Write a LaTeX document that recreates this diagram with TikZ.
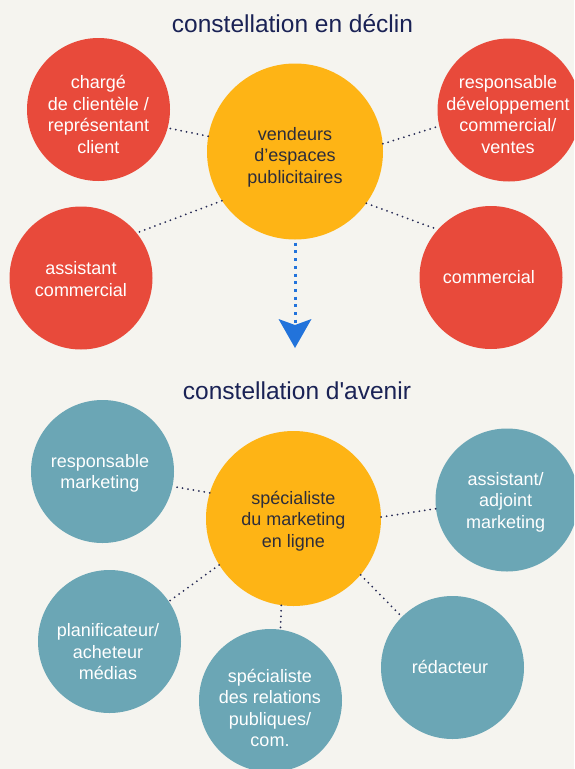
\documentclass[tikz,border=0pt]{standalone}
\usepackage{fontspec}
\newfontfamily\lsans{Liberation Sans}
\usetikzlibrary{arrows.meta}
\definecolor{bg}{HTML}{F5F4EF}
\definecolor{cred}{HTML}{E84A3B}
\definecolor{cyel}{HTML}{FEB415}
\definecolor{cteal}{HTML}{6BA6B5}
\definecolor{navy}{HTML}{1A2255}
\definecolor{dotnavy}{HTML}{262A55}
\definecolor{dtext}{HTML}{2D2D3A}
\definecolor{ablue}{HTML}{2273DB}
\begin{document}
\begin{tikzpicture}[x=1pt,y=-1pt,
  redc/.style={circle, fill=cred, minimum size=143pt, inner sep=0pt},
  tealc/.style={circle, fill=cteal, minimum size=143pt, inner sep=0pt},
  yelc/.style={circle, fill=cyel, inner sep=0pt},
  ltxt/.style={text=white, font=\lsans\fontsize{18}{21.5}\selectfont, align=center, inner sep=0pt},
  dtxt/.style={text=dtext, font=\lsans\fontsize{18}{21.5}\selectfont, align=center, inner sep=0pt},
  ttl/.style={text=navy, font=\lsans\fontsize{24.5}{28}\selectfont, inner sep=0pt, anchor=base},
  link/.style={draw=dotnavy, line width=2pt, dash pattern=on 0pt off 5.5pt, line cap=round},
  bluedots/.style={draw=ablue, line width=3pt, dash pattern=on 3pt off 4.7pt}
]
\useasboundingbox (0,0) rectangle (574,769);
\fill[bg] (0,0) rectangle (574,769);
\clip (0,0) rectangle (574,769);

% titles
\node[ttl] (h1) at (292.5,32) {constellation en déclin};
\node[ttl] (h2) at (297,399) {constellation d'avenir};

% top constellation
\node[yelc, minimum size=176pt] (y1) at (295,151.5) {};
\node[redc] (r1) at (98.5,109.5) {};
\node[redc] (r2) at (509,110) {};
\node[redc] (r3) at (81,278) {};
\node[redc] (r4) at (491,277.5) {};

\node[dtxt] (ty1) at (295,157) {vendeurs\\d’espaces\\publicitaires};
\node[ltxt] (tr1) at (98.5,114.5) {chargé\\de clientèle /\\représentant\\client};
\node[ltxt] (tr2) at (508,114.5) {responsable\\développement\\commercial/\\ventes};
\node[ltxt] (tr3) at (81,279) {assistant\\commercial};
\node[ltxt] (tr4) at (489,277.5) {commercial};

\draw[link] (y1.170) -- (r1.345);
\draw[link] (y1.214) -- (r3.39.4);
\draw[link] (y1.5.8) -- (r2.193.7);
\draw[link] (y1.324) -- (r4.138.7);

% arrow
\coordinate (atip) at (295,348);
\draw[bluedots, shorten <=3pt, -{Stealth[length=29pt, width=33pt, inset=6pt, line width=0pt]}] (y1.south) -- (atip);

% bottom constellation
\node[yelc, minimum size=175pt] (y2) at (293.5,518.5) {};
\node[tealc] (b1) at (102.5,471.5) {};
\node[tealc] (b2) at (507,500) {};
\node[tealc] (b3) at (452.5,667.5) {};
\node[tealc] (b4) at (270.5,700.5) {};
\node[tealc] (b5) at (109.5,641.5) {};

\node[dtxt] (ty2) at (293.5,521) {spécialiste\\du marketing\\en ligne};
\node[ltxt] (tb1) at (100,473.5) {responsable\\marketing};
\node[ltxt] (tb2) at (505.7,502) {assistant/\\adjoint\\marketing};
\node[ltxt] (tb3) at (450,667) {rédacteur};
\node[ltxt] (tb4) at (270,708) {spécialiste\\des relations\\publiques/\\com.};
\node[ltxt] (tb5) at (108,652) {planificateur/\\acheteur\\médias};

\draw[link] (y2.163) -- (b1.348);
\draw[link] (y2.1) -- (b2.187);
\draw[link] (y2.320) -- (b3.135);
\draw[link] (y2.262) -- (b4.82);
\draw[link] (y2.212) -- (b5.34.4);
\end{tikzpicture}
\end{document}
